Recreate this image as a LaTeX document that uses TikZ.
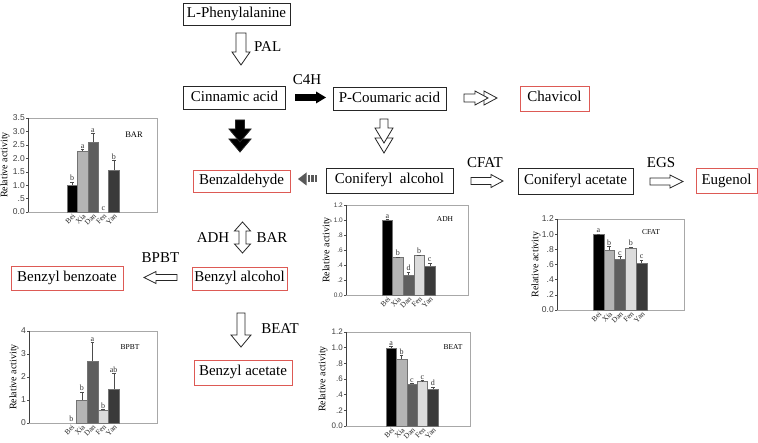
\documentclass[tikz,border=0pt]{standalone}
\usepackage{fontspec}
\setmainfont{Liberation Serif}
\setsansfont{Liberation Sans}
\newfontfamily\tnr{Liberation Serif}
\newfontfamily\arl{Liberation Sans}
\definecolor{boxred}{HTML}{DD5A55}
\definecolor{barc0}{HTML}{000000}
\definecolor{barc1}{HTML}{B4B4B4}
\definecolor{barc2}{HTML}{5E5E5E}
\definecolor{barc3}{HTML}{DCDCDC}
\definecolor{barc4}{HTML}{3A3A3A}
\definecolor{framec}{HTML}{A8A8A8}
\tikzset{
  box/.style={draw=black!85, line width=0.7pt, inner sep=0pt, font=\tnr\fontsize{15}{18}\selectfont, text height=10pt, text depth=3pt},
  rbox/.style={box, draw=boxred},
  lab/.style={inner sep=0pt, font=\tnr\fontsize{15}{18}\selectfont},
  arrowline/.style={line width=0.8pt, draw=black!85},
  pics/harrow/.style n args={4}{code={
    \draw[arrowline, fill=white] (0,-#2) -- ({#1-#4},-#2) -- ({#1-#4},-#3) -- (#1,0) -- ({#1-#4},#3) -- ({#1-#4},#2) -- (0,#2) -- cycle;}},
  pics/solidarrow/.style n args={4}{code={
    \fill[black] (0,-#2) -- ({#1-#4},-#2) -- ({#1-#4},-#3) -- (#1,0) -- ({#1-#4},#3) -- ({#1-#4},#2) -- (0,#2) -- cycle;}},
  pics/dblhead/.style n args={6}{code={
    \draw[arrowline, fill=#6] ({#1-#4},-#3) -- (#1,0) -- ({#1-#4},#3) -- cycle;
    \draw[arrowline, fill=#6] (0,-#2) -- ({#1-#4-#5},-#2) -- ({#1-#4-#5},-#3) -- ({#1-#5},0) -- ({#1-#4-#5},#3) -- ({#1-#4-#5},#2) -- (0,#2) -- cycle;}},
  pics/twoway/.style n args={4}{code={
    \draw[arrowline, fill=white] (0,0) -- (#4,-#3) -- (#4,-#2) -- ({#1-#4},-#2) -- ({#1-#4},-#3) -- (#1,0) -- ({#1-#4},#3) -- ({#1-#4},#2) -- (#4,#2) -- (#4,#3) -- cycle;}},
}
% chart drawing: uses \chL \chT \chR \chB \chX \chW \chF \chN
\newcommand{\drawchart}[6]{%
  \pgfmathsetmacro\chU{(\chB-\chT)/#1}
  \draw[framec, line width=0.5pt] (\chL,\chT) rectangle (\chR,\chB);
  \foreach \tv/\tl [count=\ti] in {#2}{
    \draw[line width=0.4pt, black!70] (\chL,{\chB-\tv*\chU}) -- ++(-2,0);
    \node[anchor=east, inner sep=0pt, font=\arl\fontsize{\chF}{\chF}\selectfont, text=black!75] (\chN tick\ti) at ({\chL-3},{\chB-\tv*\chU}) {\tl};
  }
  \draw[black!75, line width=0.5pt] (\chL,\chT) -- (\chL,\chB);
  \foreach \bv/\be/\bl [count=\bi from 0] in {#3}{
    \pgfmathsetmacro\xa{\chX+\bi*\chW}
    \pgfmathsetmacro\xc{\xa+\chW/2}
    \pgfmathsetmacro\yt{\chB-\bv*\chU}
    \pgfmathsetmacro\ye{\yt-\be*\chU}
    \ifdim\bv pt>0pt \fill[barc\bi, draw=black!55, line width=0.25pt] (\xa,\chB) rectangle ({\xa+\chW},\yt); \fi
    \ifdim\be pt>0pt \draw[line width=0.4pt, black!70] (\xc,\yt) -- (\xc,\ye) ++(-1.8,0) -- ++(3.6,0); \fi
    \node[anchor=south, inner sep=0.8pt, font=\tnr\fontsize{8}{8}\selectfont, text=black!80] (\chN let\bi) at (\xc,\ye) {\bl};
  }
  \foreach \cn [count=\ci from 0] in {Bei,Xia,Dan,Fen,Yan}{
    \node[rotate=45, anchor=east, inner sep=0pt, font=\tnr\fontsize{7.5}{7.5}\selectfont, text=black!85] (\chN cat\ci) at ({\chX+\ci*\chW+\chW/2+2},{\chB+3}) {\cn};
  }
  \node[inner sep=0pt, font=\tnr\fontsize{7.5}{8}\selectfont] (\chN title) at #5 {#4};
  \node[rotate=90, inner sep=0pt, font=\tnr\fontsize{10}{10}\selectfont] (\chN ylab) at (#6,{(\chT+\chB)/2}) {Relative activity};
}
\begin{document}
\begin{tikzpicture}[x=1pt,y=-1pt]
\fill[white] (0,0) rectangle (758,443);
\useasboundingbox (0,0) rectangle (758,443);

% compounds
\node[box, minimum width=107, minimum height=22] (lphe) at (236.5,14) {L-Phenylalanine};
\node[box, minimum width=102, minimum height=23] (cinn) at (234.5,98) {Cinnamic acid};
\node[box, minimum width=113, minimum height=23] (pcou) at (389.5,99) {P-Coumaric acid};
\node[rbox, minimum width=69, minimum height=25] (chav) at (554.5,98.5) {Chavicol};
\node[rbox, minimum width=97, minimum height=22] (benzal) at (241.5,181) {Benzaldehyde};
\node[box, minimum width=127, minimum height=25] (conalc) at (389.5,180.5) {Coniferyl\ \ alcohol};
\node[box, minimum width=115, minimum height=26] (conace) at (575.5,181.5) {Coniferyl acetate};
\node[rbox, minimum width=61, minimum height=25] (eug) at (726.5,181) {Eugenol};
\node[rbox, minimum width=95, minimum height=23] (bzalc) at (239.5,278.5) {Benzyl alcohol};
\node[rbox, minimum width=112, minimum height=24] (bzbz) at (67,278) {Benzyl benzoate};
\node[rbox, minimum width=98, minimum height=25] (bzace) at (243,372.5) {Benzyl acetate};

% enzyme labels
\node[lab, anchor=west] (palL) at (254,47) {PAL};
\node[lab] (c4hL) at (307,80) {C4H};
\node[lab] (cfatL) at (485,162.5) {CFAT};
\node[lab] (egsL) at (661,163) {EGS};
\node[lab] (adhL) at (213,238) {ADH};
\node[lab] (barL) at (272,238) {BAR};
\node[lab] (bpbtL) at (160.5,257.5) {BPBT};
\node[lab] (beatL) at (280,329) {BEAT};

% arrows
\coordinate (a1) at (241,33);
\pic[rotate=-90] at (a1) {harrow={32}{5}{9}{13}};
\coordinate (a2) at (295,97.5);
\pic at (a2) {solidarrow={31}{3.3}{6}{10}};
\coordinate (a3) at (464,98);
\pic at (a3) {dblhead={33}{4}{7}{13}{9}{white}};
\coordinate (a4) at (384,119);
\pic[rotate=-90] at (a4) {dblhead={34}{4}{9}{15}{10}{white}};
\coordinate (a5) at (240,120);
\pic[rotate=-90] at (a5) {dblhead={32}{4.5}{11}{13}{10}{black}};
\coordinate (a6) at (471,181);
\pic at (a6) {harrow={32}{3.5}{6.5}{12}};
\coordinate (a7) at (650,181.5);
\pic at (a7) {harrow={33}{3.5}{6.5}{13}};
\coordinate (a8) at (177,277.5);
\pic[rotate=180] at (a8) {harrow={33}{3}{6}{12}};
\coordinate (a9) at (242.5,222);
\pic[rotate=-90] at (a9) {twoway={31}{3.5}{8}{9}};
\coordinate (a10) at (241,313);
\pic[rotate=-90] at (a10) {harrow={34}{4}{10}{12}};
% grey striped arrow (Coniferyl alcohol -> Benzaldehyde)
\fill[black!65] (298,179) -- (306.5,172.5) -- (306.5,185.5) -- cycle;
\fill[black!65] (307.5,175.5) rectangle (310,182.5);
\fill[black!65] (311,175.5) rectangle (313.5,182.5);
\fill[black!65] (314.5,175.5) rectangle (317,182.5);

% charts
\def\chN{bar}\def\chL{28}\def\chT{118}\def\chR{157}\def\chB{212}\def\chX{67}\def\chW{10.4}\def\chF{8.5}
\drawchart{3.5}{0/0.0,0.5/.5,1/1.0,1.5/1.5,2/2.0,2.5/2.5,3/3.0,3.5/3.5}{1.0/0.12/b,2.28/0.04/a,2.6/0.32/a,0/0/c,1.55/0.38/b}{\fontsize{8.5}{9}\selectfont BAR}{(134,135)}{5}

\def\chN{adh}\def\chL{346}\def\chT{205}\def\chR{468}\def\chB{295}\def\chX{382}\def\chW{10.6}\def\chF{6.5}
\drawchart{1.2}{0/0.0,0.2/.2,0.4/.4,0.6/.6,0.8/.8,1/1.0,1.2/1.2}{1.0/0.01/a,0.5/0.01/b,0.26/0.05/d,0.53/0.005/b,0.38/0.05/c}{ADH}{(445,219)}{327}

\def\chN{cfat}\def\chL{557}\def\chT{219}\def\chR{684}\def\chB{310}\def\chX{593}\def\chW{10.8}\def\chF{8.5}
\drawchart{1.2}{0/0.0,0.2/.2,0.4/.4,0.6/.6,0.8/.8,1/1.0,1.2/1.2}{1.0/0.005/a,0.79/0.05/b,0.67/0.04/c,0.82/0.01/b,0.62/0.04/c}{CFAT}{(651,232)}{536}

\def\chN{bpbt}\def\chL{29}\def\chT{331}\def\chR{157}\def\chB{423}\def\chX{66}\def\chW{10.6}\def\chF{8.5}
\drawchart{4}{0/0,1/1,2/2,3/3,4/4}{0/0/b,1.0/0.35/b,2.7/0.8/a,0.55/0.05/b,1.47/0.7/ab}{BPBT}{(130,347)}{14}

\def\chN{beat}\def\chL{346}\def\chT{332}\def\chR{470}\def\chB{426}\def\chX{386}\def\chW{10.4}\def\chF{8}
\drawchart{1.2}{0/0.0,0.2/.2,0.4/.4,0.6/.6,0.8/.8,1/1.0,1.2/1.2}{1.0/0.02/a,0.86/0.04/b,0.54/0.005/c,0.57/0.01/c,0.47/0.03/d}{BEAT}{(453,347)}{323}
\end{tikzpicture}
\end{document}
